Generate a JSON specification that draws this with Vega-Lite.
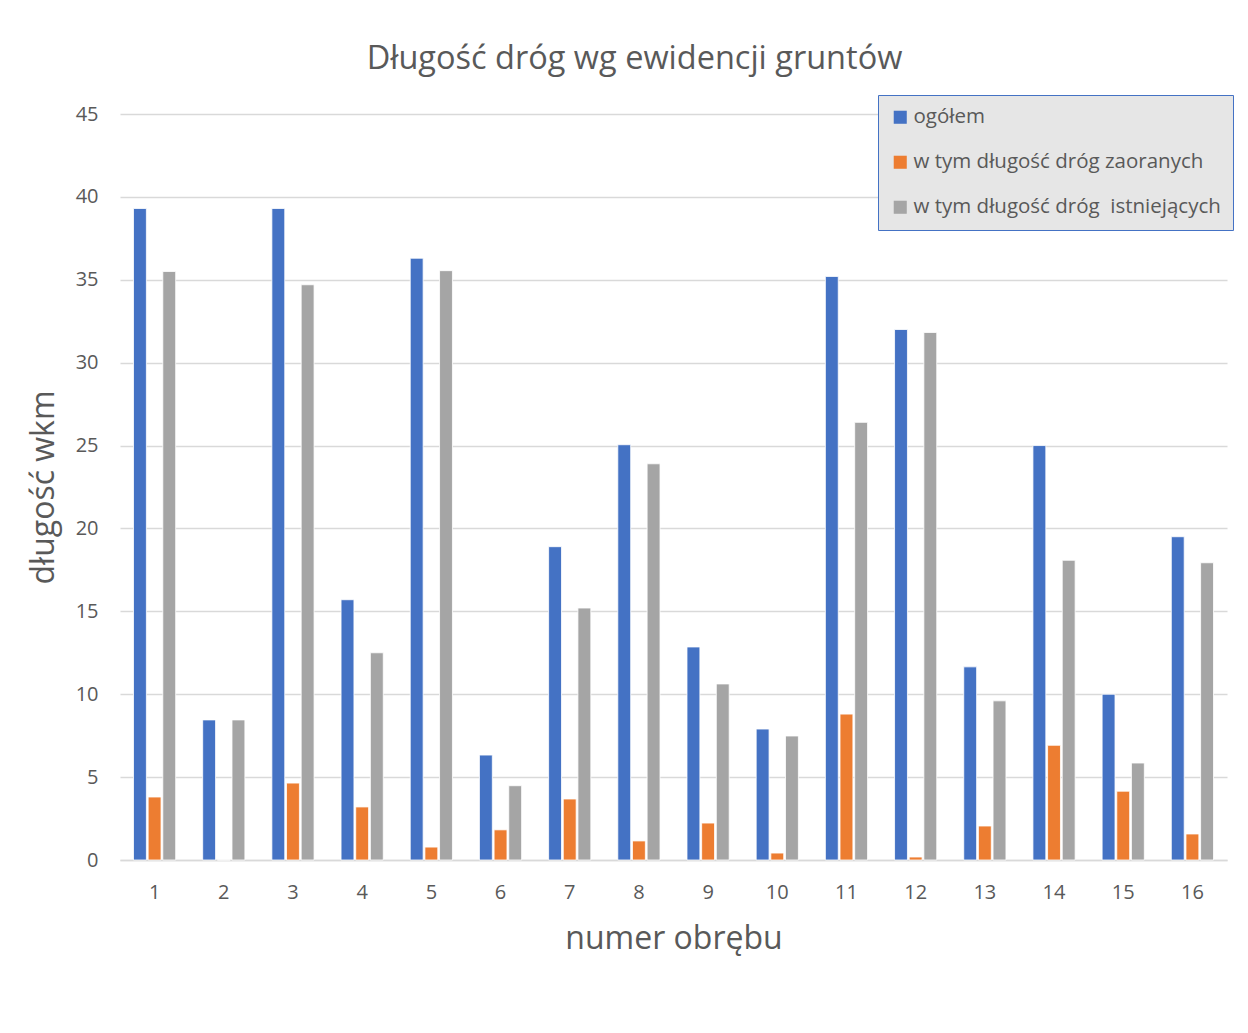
{
  "$schema": "https://vega.github.io/schema/vega-lite/v6.json",
  "autosize": "none",
  "width": 1107,
  "height": 746,
  "padding": {"left": 120, "top": 114, "right": 21, "bottom": 173},
  "background": "white",
  "title": {
    "text": "Długość dróg wg ewidencji gruntów",
    "font": "Open Sans",
    "fontSize": 32.5,
    "fontWeight": "normal",
    "color": "#595959",
    "anchor": "middle",
    "dx": -39,
    "offset": 19
  },
  "data": {
    "values": [
      {"obreb": 1, "seria": "ogółem", "v": 39.3},
      {"obreb": 1, "seria": "w tym długość dróg zaoranych", "v": 3.8},
      {"obreb": 1, "seria": "w tym długość dróg  istniejących", "v": 35.5},
      {"obreb": 2, "seria": "ogółem", "v": 8.45},
      {"obreb": 2, "seria": "w tym długość dróg zaoranych", "v": 0},
      {"obreb": 2, "seria": "w tym długość dróg  istniejących", "v": 8.45},
      {"obreb": 3, "seria": "ogółem", "v": 39.3},
      {"obreb": 3, "seria": "w tym długość dróg zaoranych", "v": 4.64},
      {"obreb": 3, "seria": "w tym długość dróg  istniejących", "v": 34.7},
      {"obreb": 4, "seria": "ogółem", "v": 15.7},
      {"obreb": 4, "seria": "w tym długość dróg zaoranych", "v": 3.2},
      {"obreb": 4, "seria": "w tym długość dróg  istniejących", "v": 12.5},
      {"obreb": 5, "seria": "ogółem", "v": 36.3},
      {"obreb": 5, "seria": "w tym długość dróg zaoranych", "v": 0.78},
      {"obreb": 5, "seria": "w tym długość dróg  istniejących", "v": 35.55},
      {"obreb": 6, "seria": "ogółem", "v": 6.33},
      {"obreb": 6, "seria": "w tym długość dróg zaoranych", "v": 1.82},
      {"obreb": 6, "seria": "w tym długość dróg  istniejących", "v": 4.48},
      {"obreb": 7, "seria": "ogółem", "v": 18.9},
      {"obreb": 7, "seria": "w tym długość dróg zaoranych", "v": 3.68},
      {"obreb": 7, "seria": "w tym długość dróg  istniejących", "v": 15.2},
      {"obreb": 8, "seria": "ogółem", "v": 25.05},
      {"obreb": 8, "seria": "w tym długość dróg zaoranych", "v": 1.15},
      {"obreb": 8, "seria": "w tym długość dróg  istniejących", "v": 23.9},
      {"obreb": 9, "seria": "ogółem", "v": 12.85},
      {"obreb": 9, "seria": "w tym długość dróg zaoranych", "v": 2.23},
      {"obreb": 9, "seria": "w tym długość dróg  istniejących", "v": 10.62},
      {"obreb": 10, "seria": "ogółem", "v": 7.9},
      {"obreb": 10, "seria": "w tym długość dróg zaoranych", "v": 0.42},
      {"obreb": 10, "seria": "w tym długość dróg  istniejących", "v": 7.48},
      {"obreb": 11, "seria": "ogółem", "v": 35.2},
      {"obreb": 11, "seria": "w tym długość dróg zaoranych", "v": 8.8},
      {"obreb": 11, "seria": "w tym długość dróg  istniejących", "v": 26.4},
      {"obreb": 12, "seria": "ogółem", "v": 32.0},
      {"obreb": 12, "seria": "w tym długość dróg zaoranych", "v": 0.18},
      {"obreb": 12, "seria": "w tym długość dróg  istniejących", "v": 31.82},
      {"obreb": 13, "seria": "ogółem", "v": 11.65},
      {"obreb": 13, "seria": "w tym długość dróg zaoranych", "v": 2.05},
      {"obreb": 13, "seria": "w tym długość dróg  istniejących", "v": 9.6},
      {"obreb": 14, "seria": "ogółem", "v": 25.0},
      {"obreb": 14, "seria": "w tym długość dróg zaoranych", "v": 6.92},
      {"obreb": 14, "seria": "w tym długość dróg  istniejących", "v": 18.08},
      {"obreb": 15, "seria": "ogółem", "v": 10.0},
      {"obreb": 15, "seria": "w tym długość dróg zaoranych", "v": 4.15},
      {"obreb": 15, "seria": "w tym długość dróg  istniejących", "v": 5.85},
      {"obreb": 16, "seria": "ogółem", "v": 19.5},
      {"obreb": 16, "seria": "w tym długość dróg zaoranych", "v": 1.57},
      {"obreb": 16, "seria": "w tym długość dróg  istniejących", "v": 17.93}
    ]
  },
  "mark": {"type": "bar", "stroke": "white", "strokeWidth": 0.8},
  "encoding": {
    "x": {
      "field": "obreb",
      "type": "ordinal",
      "scale": {"paddingInner": 0.39, "paddingOuter": 0.195},
      "axis": {
        "title": "numer obrębu",
        "titleFont": "Open Sans",
        "titleFontSize": 32,
        "titleFontWeight": "normal",
        "titleColor": "#595959",
        "titlePadding": 21,
        "labelAngle": 0,
        "labelFont": "Open Sans",
        "labelFontSize": 20,
        "labelColor": "#595959",
        "labelPadding": 22,
        "ticks": false,
        "domainColor": "#d9d9d9",
        "domainWidth": 1.5
      }
    },
    "xOffset": {
      "field": "seria",
      "type": "nominal",
      "sort": ["ogółem", "w tym długość dróg zaoranych", "w tym długość dróg  istniejących"],
      "scale": {"paddingInner": 0.12}
    },
    "y": {
      "field": "v",
      "type": "quantitative",
      "scale": {"domain": [0, 45], "nice": false},
      "axis": {
        "title": "długość wkm",
        "titleFont": "Open Sans",
        "titleFontSize": 32,
        "titleFontWeight": "normal",
        "titleColor": "#595959",
        "titlePadding": 15,
        "values": [0, 5, 10, 15, 20, 25, 30, 35, 40, 45],
        "labelFont": "Open Sans",
        "labelFontSize": 20,
        "labelColor": "#595959",
        "labelPadding": 22,
        "ticks": false,
        "domain": false,
        "gridColor": "#d9d9d9",
        "gridWidth": 1.5
      }
    },
    "color": {
      "field": "seria",
      "type": "nominal",
      "sort": ["ogółem", "w tym długość dróg zaoranych", "w tym długość dróg  istniejących"],
      "scale": {
        "domain": ["ogółem", "w tym długość dróg zaoranych", "w tym długość dróg  istniejących"],
        "range": ["#4472c4", "#ed7d31", "#a5a5a5"]
      },
      "legend": {
        "title": null,
        "orient": "none",
        "legendX": 758,
        "legendY": -19,
        "fillColor": "#e6e6e6",
        "strokeColor": "#4472c4",
        "padding": 12,
        "symbolType": "square",
        "symbolSize": 170,
        "symbolStrokeWidth": 0,
        "labelFont": "Open Sans",
        "labelFontSize": 20.5,
        "labelColor": "#595959",
        "labelLimit": 400,
        "labelOffset": 3,
        "rowPadding": 24,
        "labelExpr": "replace(datum.label, '  ', '\u00a0 ')"
      }
    }
  },
  "config": {"view": {"stroke": null}}
}
